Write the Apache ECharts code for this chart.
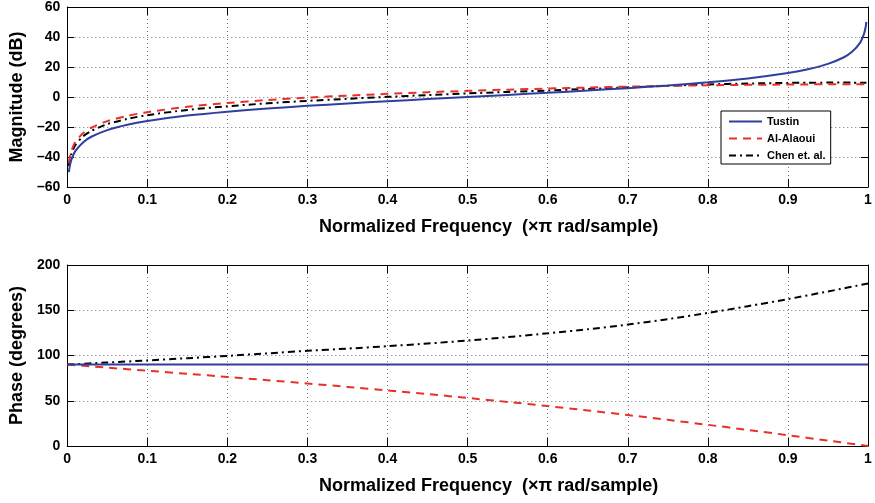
<!DOCTYPE html>
<html>
<head>
<meta charset="utf-8">
<script src="https://cdn.jsdelivr.net/npm/echarts@6/dist/echarts.min.js"></script>
<style>
html,body{margin:0;padding:0;background:#fff;}
#chart{width:875px;height:503px;}
</style>
</head>
<body>
<div id="chart"></div>
<script>
// ---- data ----
const seriesNames = ['Tustin', 'Al-Alaoui', 'Chen et. al.'];

const magFreq = [0.002,0.003,0.005,0.01,0.02,0.03,0.05,0.075,0.1,0.15,0.2,0.25,0.3,0.35,0.4,0.45,0.5,0.55,0.6,0.65,0.7,0.75,0.8,0.85,0.9,0.925,0.95,0.97,0.98,0.99,0.995,0.997,0.998];
const magTustin = [-50.1,-46.5,-42.1,-36.1,-30.1,-26.5,-22.1,-18.5,-16.0,-12.4,-9.8,-7.7,-5.9,-4.3,-2.8,-1.4,0,1.4,2.8,4.3,5.9,7.7,9.8,12.4,16.0,18.5,22.1,26.5,30.1,36.1,42.1,46.5,50.1];
const magAlAlaoui = [-44.0,-40.5,-36.1,-30.1,-24.0,-20.5,-16.1,-12.6,-10.1,-6.5,-4.0,-2.0,-0.4,0.9,2.1,3.2,4.1,4.9,5.6,6.3,6.9,7.4,7.8,8.1,8.3,8.4,8.5,8.5,8.5,8.5,8.5,8.5,8.5];
const magChen = [-46.0,-42.5,-38.1,-32.1,-26.1,-22.6,-18.1,-14.6,-12.1,-8.6,-6.2,-4.2,-2.6,-1.2,0.1,1.3,2.4,3.4,4.3,5.4,6.4,7.5,8.4,9.0,9.4,9.5,9.6,9.6,9.6,9.5,9.5,9.5,9.5];

const phaseFreq = [0,0.05,0.1,0.15,0.2,0.25,0.3,0.35,0.4,0.45,0.5,0.55,0.6,0.65,0.7,0.75,0.8,0.85,0.9,0.95,1];
const phaseTustin = [90,90,90,90,90,90,90,90,90,90,90,90,90,90,90,90,90,90,90,90,90];
const phaseAlAlaoui = [90,86.6,83.2,79.8,76.3,72.7,69.1,65.3,61.4,57.4,53.1,48.7,44.1,39.3,34.2,28.9,23.4,17.8,11.9,6.0,0];
const phaseChen = [90,92.2,94.6,97.0,99.6,102.3,105.2,107.6,110.3,113.2,116.5,120.3,124.5,129.0,134.2,140.2,147.0,154.5,162.3,170.8,179.5];

const xTitle = 'Normalized Frequency  (\u00d7\u03c0 rad/sample)';
const magTitle = 'Magnitude (dB)';
const phaseTitle = 'Phase (degrees)';

// ---- styling ----
const FONT = '"Liberation Sans", Arial, Helvetica, sans-serif';
const colors = ['#2e3f9e', '#e8302a', '#000000'];
const lineTypes = ['solid', [8, 6], [7, 4, 2, 4]];

function pairs(xs, ys) { return xs.map((x, i) => [x, ys[i]]); }

function fmtTick(v) { return String(v).replace('-', '\u2013'); }

function mainX(gi) {
  return {
    type: 'value', gridIndex: gi, min: 0, max: 1, interval: 0.1, position: 'bottom',
    axisLine: { show: true, onZero: false, lineStyle: { color: '#000', width: 1 } },
    axisTick: { show: true, inside: true, length: 8, lineStyle: { color: '#000' } },
    axisLabel: { color: '#000', fontFamily: FONT, fontWeight: 'bold', fontSize: 14, margin: 6, formatter: fmtTick },
    splitLine: { show: true, lineStyle: { color: '#777', type: [1, 3], width: 1 } },
    name: xTitle, nameLocation: 'middle', nameGap: 31,
    nameTextStyle: { color: '#000', fontFamily: FONT, fontWeight: 'bold', fontSize: 18, padding: [0, 0, 0, 42] }
  };
}
function sideX(gi) {
  return {
    type: 'value', gridIndex: gi, min: 0, max: 1, interval: 0.1, position: 'top',
    axisLine: { show: true, onZero: false, lineStyle: { color: '#000', width: 1 } },
    axisTick: { show: true, inside: true, length: 8, lineStyle: { color: '#000' } },
    axisLabel: { show: false }, splitLine: { show: false }
  };
}
function mainY(gi, min, max, interval, title) {
  return {
    type: 'value', gridIndex: gi, min: min, max: max, interval: interval, position: 'left',
    axisLine: { show: true, onZero: false, lineStyle: { color: '#000', width: 1 } },
    axisTick: { show: true, inside: true, length: 7, lineStyle: { color: '#000' } },
    axisLabel: { color: '#000', fontFamily: FONT, fontWeight: 'bold', fontSize: 14, margin: 7, formatter: fmtTick },
    splitLine: { show: true, lineStyle: { color: '#777', type: [1, 3], width: 1 } },
    name: title, nameLocation: 'middle', nameGap: 41, nameRotate: 90,
    nameTextStyle: { color: '#000', fontFamily: FONT, fontWeight: 'bold', fontSize: 18 }
  };
}
function sideY(gi, min, max, interval) {
  return {
    type: 'value', gridIndex: gi, min: min, max: max, interval: interval, position: 'right',
    axisLine: { show: true, onZero: false, lineStyle: { color: '#000', width: 1 } },
    axisTick: { show: true, inside: true, length: 7, lineStyle: { color: '#000' } },
    axisLabel: { show: false }, splitLine: { show: false }
  };
}
function mkSeries(name, idx, data, axisIdx) {
  return {
    type: 'line', name: name, xAxisIndex: axisIdx, yAxisIndex: axisIdx,
    data: data, symbol: 'none', smooth: 0.25, z: 10 - idx,
    lineStyle: { color: colors[idx], width: 2, type: lineTypes[idx] },
    itemStyle: { color: colors[idx] }
  };
}

const chart = echarts.init(document.getElementById('chart'), null, { renderer: 'canvas' });
chart.setOption({
  animation: false,
  backgroundColor: '#fff',
  grid: [
    { left: 65, top: 6, width: 803, height: 181, containLabel: false },
    { left: 65, top: 265, width: 803, height: 181, containLabel: false }
  ],
  xAxis: [mainX(0), mainX(1), sideX(0), sideX(1)],
  yAxis: [mainY(0, -60, 60, 20, magTitle), mainY(1, 0, 200, 50, phaseTitle), sideY(0, -60, 60, 20), sideY(1, 0, 200, 50)],
  legend: {
    data: seriesNames, orient: 'vertical', left: 721, top: 111,
    itemWidth: 33, itemHeight: 13, itemGap: 6,
    padding: [5, 5, 3, 7],
    borderColor: '#000', borderWidth: 1, backgroundColor: '#fff',
    itemStyle: { opacity: 0 },
    textStyle: { color: '#000', fontFamily: FONT, fontWeight: 'bold', fontSize: 11 },
    selectedMode: false
  },
  series: [
    mkSeries(seriesNames[0], 0, pairs(magFreq, magTustin), 0),
    mkSeries(seriesNames[1], 1, pairs(magFreq, magAlAlaoui), 0),
    mkSeries(seriesNames[2], 2, pairs(magFreq, magChen), 0),
    mkSeries(seriesNames[0], 0, pairs(phaseFreq, phaseTustin), 1),
    mkSeries(seriesNames[1], 1, pairs(phaseFreq, phaseAlAlaoui), 1),
    mkSeries(seriesNames[2], 2, pairs(phaseFreq, phaseChen), 1)
  ]
});
</script>
</body>
</html>
